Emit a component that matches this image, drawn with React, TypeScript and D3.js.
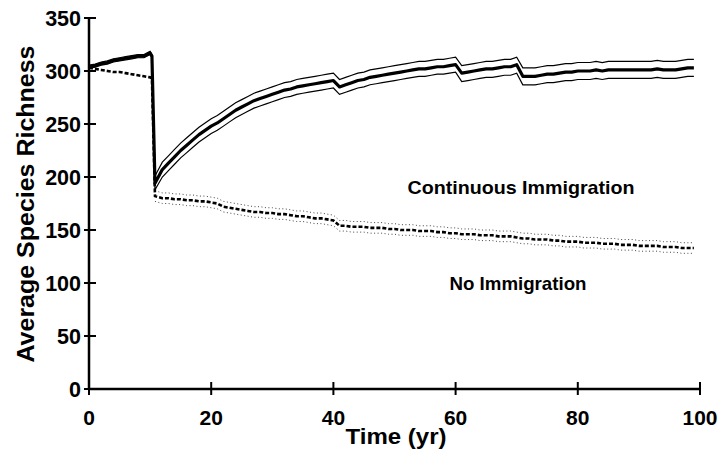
import React from "react";
import * as d3 from "d3";

const years = [0,1,2,3,4,5,6,7,8,9,10,10.3,10.8,
12,13,14,15,16,17,18,19,20,
21,22,23,24,25,26,27,28,29,30,
31,32,33,34,35,36,37,38,39,40,
41,42,43,44,45,46,47,48,49,50,
51,52,53,54,55,56,57,58,59,60,
61,62,63,64,65,66,67,68,69,70,
71,72,73,74,75,76,77,78,79,80,
81,82,83,84,85,86,87,88,89,90,
91,92,93,94,95,96,97,98,99];

const contMean = [304,305,307,308,310,311,312,313,314,314,317,314,194,
207,213,219,225,230,235,240,244,248,
251,255,259,263,266,269,272,274,276,278,
280,282,283,285,286,287,288,289,290,291,
285,287,289,291,292,294,295,296,297,298,
299,300,301,302,302,303,304,304,305,306,
298,299,300,301,302,302,303,304,304,306,
295,295,295,296,297,297,298,299,299,300,
300,300,301,300,301,301,301,301,301,301,
301,301,302,301,301,301,302,303,303];

const contUpper = [305.5,306.5,308.5,309.5,311.5,312.5,313.5,314.5,315.5,315.5,318.5,315.5,201,
214,220,226,232,237,242,247,251,255,
258,262,266,270,273,276,279,281,283,285,
287,289,290,292,293,294,295,296,297,298,
292,294,296,298,299,301,302,303,304,305,
306,307,308,309,309,310,311,311,312,313,
305,306,307,308,309,309,310,311,311,313,
303,303,303,304,305,305,306,307,307,308,
308,308,309,308,309,309,309,309,309,309,
309,309,310,309,309,309,310,311,311];

const contLower = [302.5,303.5,305.5,306.5,308.5,309.5,310.5,311.5,312.5,312.5,315.5,312.5,188,
200,206,212,218,223,228,233,237,241,
244,248,252,256,259,262,265,267,269,271,
273,275,276,278,279,280,281,282,283,284,
278,280,282,284,285,287,288,289,290,291,
292,293,294,295,295,296,297,297,298,299,
290,291,292,293,294,294,295,296,296,298,
287,287,287,288,289,289,290,291,291,292,
292,292,293,292,293,293,293,293,293,293,
293,293,294,293,293,293,294,295,295];

const noImmMean = [303,302,301,300,299,299,298,297,296,295,294,293,182,
180,180,179,179,178,178,177,177,176,
175,172,171,170,169,168,167,167,166,166,
165,165,164,163,163,162,161,161,160,159,
154,154,153,153,153,152,152,152,151,151,
150,150,150,149,149,149,148,148,147,147,
146,146,146,145,145,145,144,144,144,143,
142,142,141,141,141,140,140,139,139,139,
138,138,138,137,137,137,136,136,136,135,
135,135,135,134,134,134,133,133,133];

const noImmUpper = [null,null,null,null,null,null,null,null,null,null,null,null,187,
185,185,184,184,183,183,182,182,181,
180,177,176,175,174,173,172,172,171,171,
170,170,169,168,168,167,166,166,165,164,
159,159,158,158,158,157,157,157,156,156,
155,155,155,154,154,154,153,153,152,152,
151,151,151,150,150,150,149,149,149,148,
147,147,146,146,146,145,145,144,144,144,
143,143,143,142,142,142,141,141,141,140,
140,140,140,139,139,139,138,138,138];

const noImmLower = [null,null,null,null,null,null,null,null,null,null,null,null,177,
175,175,174,174,173,173,172,172,171,
170,167,166,165,164,163,162,162,161,161,
160,160,159,158,158,157,156,156,155,154,
149,149,148,148,148,147,147,147,146,146,
145,145,145,144,144,144,143,143,142,142,
141,141,141,140,140,140,139,139,139,138,
137,137,136,136,136,135,135,134,134,134,
133,133,133,132,132,132,131,131,131,130,
130,130,130,129,129,129,128,128,128];

const xTicks = [0, 20, 40, 60, 80, 100];
const yTicks = [0, 50, 100, 150, 200, 250, 300, 350];

const W = 723, H = 450;
const FONT = "'Liberation Sans', Arial, Helvetica, sans-serif";

export default function App() {
  const x = d3.scaleLinear().domain([0, 100]).range([89, 700]);
  const y = d3.scaleLinear().domain([0, 350]).range([389, 18]);

  const mk = (vals: (number | null)[]) =>
    d3.line<number>()
      .defined((_, i) => vals[i] !== null)
      .x((_, i) => x(years[i]))
      .y((_, i) => y(vals[i] as number))(years as any) || "";

  return (
    <svg width={W} height={H} style={{ position: "absolute", left: 0, top: 0, background: "#fff" }}>
      <rect width={W} height={H} fill="#fff" />
      {/* continuous immigration */}
      <path d={mk(contUpper)} fill="none" stroke="#000" strokeWidth={1.2} />
      <path d={mk(contLower)} fill="none" stroke="#000" strokeWidth={1.2} />
      <path d={mk(contMean)} fill="none" stroke="#000" strokeWidth={3.2} strokeLinejoin="round" />
      {/* no immigration */}
      <path d={mk(noImmUpper)} fill="none" stroke="#444" strokeWidth={1} strokeDasharray="1,2.5" />
      <path d={mk(noImmLower)} fill="none" stroke="#444" strokeWidth={1} strokeDasharray="1,2.5" />
      <path d={mk(noImmMean)} fill="none" stroke="#000" strokeWidth={2.6} strokeDasharray="4,2" />

      {/* axes */}
      <line x1={x(0)} x2={x(100)} y1={y(0)} y2={y(0)} stroke="#000" strokeWidth={2.5} />
      <line x1={x(0)} x2={x(0)} y1={y(0)} y2={y(350)} stroke="#000" strokeWidth={2.5} />
      {xTicks.map((t) => (
        <g key={"x" + t}>
          <line x1={x(t)} x2={x(t)} y1={y(0) - 7} y2={y(0) + 6} stroke="#000" strokeWidth={2} />
          <text x={x(t)} y={425} textAnchor="middle" fontFamily={FONT} fontWeight="bold" fontSize={21}>{t}</text>
        </g>
      ))}
      {yTicks.map((t) => (
        <g key={"y" + t}>
          <line x1={x(0) - 5} x2={x(0) + 7} y1={y(t)} y2={y(t)} stroke="#000" strokeWidth={2} />
          <text x={81} y={y(t) + 7.5} textAnchor="end" fontFamily={FONT} fontWeight="bold" fontSize={21.5}>{t}</text>
        </g>
      ))}
      <text x={396} y={444} textAnchor="middle" fontFamily={FONT} fontWeight="bold" fontSize={22} textLength={101} lengthAdjust="spacingAndGlyphs">Time (yr)</text>
      <text transform={`translate(34,204) rotate(-90)`} textAnchor="middle" fontFamily={FONT} fontWeight="bold" fontSize={24} textLength={317} lengthAdjust="spacingAndGlyphs">Average Species Richness</text>
      <text x={521} y={194} textAnchor="middle" fontFamily={FONT} fontWeight="bold" fontSize={19} textLength={227} lengthAdjust="spacingAndGlyphs">Continuous Immigration</text>
      <text x={518} y={290} textAnchor="middle" fontFamily={FONT} fontWeight="bold" fontSize={19} textLength={137} lengthAdjust="spacingAndGlyphs">No Immigration</text>
    </svg>
  );
}
